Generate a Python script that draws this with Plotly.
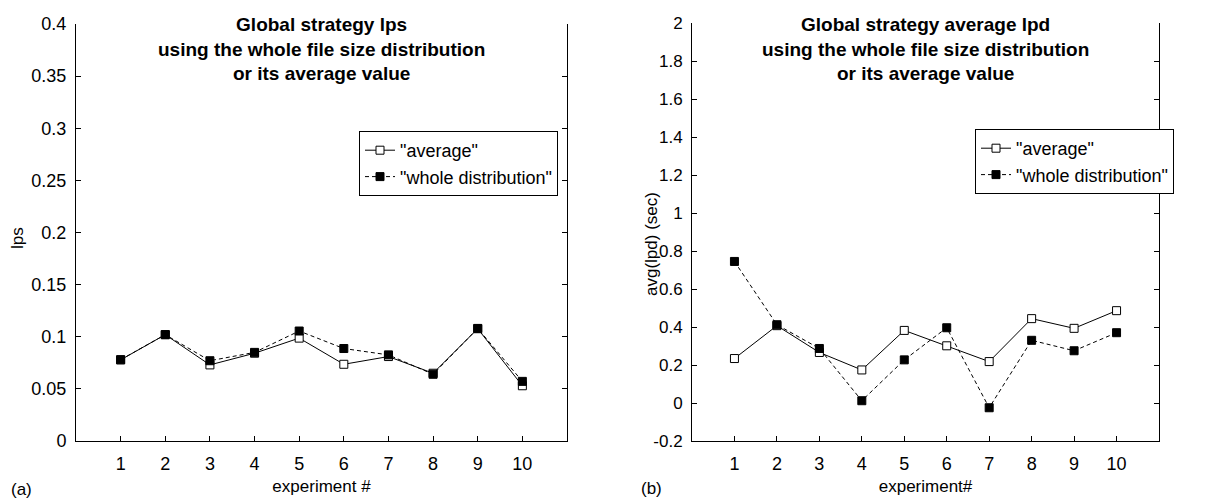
import plotly.graph_objects as go

experiments = [1, 2, 3, 4, 5, 6, 7, 8, 9, 10]

# panel (a): lps
lps_average = [0.0778, 0.102, 0.073, 0.0842, 0.0987, 0.0736, 0.081, 0.065, 0.1077, 0.053]
lps_whole = [0.078, 0.102, 0.077, 0.085, 0.1055, 0.0887, 0.0826, 0.064, 0.108, 0.0572]

# panel (b): avg(lpd)
lpd_average = [0.234, 0.407, 0.266, 0.174, 0.382, 0.301, 0.218, 0.444, 0.393, 0.486]
lpd_whole = [0.745, 0.412, 0.287, 0.012, 0.227, 0.396, -0.025, 0.33, 0.275, 0.37]

left_yticks = [0, 0.05, 0.1, 0.15, 0.2, 0.25, 0.3, 0.35, 0.4]
left_yticklabels = ["0", "0.05", "0.1", "0.15", "0.2", "0.25", "0.3", "0.35", "0.4"]
right_yticks = [-0.2, 0, 0.2, 0.4, 0.6, 0.8, 1, 1.2, 1.4, 1.6, 1.8, 2]
right_yticklabels = ["-0.2", "0", "0.2", "0.4", "0.6", "0.8", "1", "1.2", "1.4", "1.6", "1.8", "2"]
xticklabels = [str(v) for v in experiments]

# the page body has an 8px margin; the figure is sized so it fills the window exactly
OFF = 8
W, H = 1208 - OFF, 502 - OFF
FONT = "Liberation Sans, Arial, Helvetica, sans-serif"


def px(x):
    return (x - OFF) / W


def py(y):
    return 1 - (y - OFF) / H


fig = go.Figure()


def add_pair(xa, ya, avg, whole, legend):
    fig.add_trace(go.Scatter(
        x=experiments, y=avg, xaxis=xa, yaxis=ya, mode="lines+markers",
        name='"average"', legend=legend,
        line=dict(color="black", width=1, dash="solid"),
        marker=dict(symbol="square", size=8, color="white", line=dict(color="black", width=1)),
    ))
    fig.add_trace(go.Scatter(
        x=experiments, y=whole, xaxis=xa, yaxis=ya, mode="lines+markers",
        name='"whole distribution"', legend=legend,
        line=dict(color="black", width=1, dash="4px,3px"),
        marker=dict(symbol="square", size=8, color="black", line=dict(color="black", width=1)),
    ))


add_pair("x", "y", lps_average, lps_whole, "legend")
add_pair("x2", "y2", lpd_average, lpd_whole, "legend2")

axis_common = dict(
    showline=True, linecolor="black", linewidth=1, showgrid=False, zeroline=False,
    ticks="inside", ticklen=5, tickcolor="black", tickwidth=1, automargin=False,
)

fig.update_layout(
    width=W, height=H, autosize=False,
    margin=dict(l=0, r=0, t=0, b=0, pad=0, autoexpand=False),
    paper_bgcolor="white", plot_bgcolor="white",
    font=dict(family=FONT, color="black"),
    xaxis=dict(domain=[px(76), px(567)], range=[0, 11], tickvals=experiments, ticktext=xticklabels,
               mirror=False, anchor="y", ticklabelstandoff=6,
               tickfont=dict(family=FONT, size=18, color="black"),
               title=dict(text="experiment #", font=dict(size=17, family=FONT), standoff=7),
               **axis_common),
    yaxis=dict(domain=[py(441), py(24)], range=[0, 0.4], tickvals=left_yticks, ticktext=left_yticklabels,
               mirror="ticks", anchor="x", ticklabelstandoff=5,
               tickfont=dict(family=FONT, size=18, color="black"),
               **axis_common),
    xaxis2=dict(domain=[px(692), px(1159)], range=[0, 11], tickvals=experiments, ticktext=xticklabels,
                mirror=False, anchor="y2", ticklabelstandoff=6,
                tickfont=dict(family=FONT, size=18, color="black"),
                title=dict(text="experiment#", font=dict(size=17, family=FONT), standoff=7),
                **axis_common),
    yaxis2=dict(domain=[py(441), py(23)], range=[-0.2, 2], tickvals=right_yticks, ticktext=right_yticklabels,
                mirror="ticks", anchor="x2", ticklabelstandoff=5,
                tickfont=dict(family=FONT, size=17, color="black"),
                **axis_common),
    legend=dict(x=px(359), y=py(131), xanchor="left", yanchor="top",
                bordercolor="black", borderwidth=1, bgcolor="white",
                font=dict(family=FONT, size=18, color="black"), tracegroupgap=0),
    legend2=dict(x=px(975), y=py(129), xanchor="left", yanchor="top",
                 bordercolor="black", borderwidth=1, bgcolor="white",
                 font=dict(family=FONT, size=18, color="black"), tracegroupgap=0),
    showlegend=True,
)

titles = [
    ("Global strategy lps<br>using the whole file size distribution<br>or its average value", (76 + 567) / 2),
    ("Global strategy average lpd<br>using the whole file size distribution<br>or its average value", (692 + 1159) / 2),
]
for text, xc in titles:
    fig.add_annotation(text="<b>" + text + "</b>", xref="paper", yref="paper", x=px(xc), y=py(49),
                       xanchor="center", yanchor="middle", showarrow=False,
                       font=dict(family=FONT, size=19, color="black"))

# y-axis titles
fig.add_annotation(text="lps", xref="paper", yref="paper", x=px(17), y=py(238),
                   xanchor="center", yanchor="middle", textangle=-90, showarrow=False,
                   font=dict(family=FONT, size=17, color="black"))
fig.add_annotation(text="avg(lpd) (sec)", xref="paper", yref="paper", x=px(651), y=py(244),
                   xanchor="center", yanchor="middle", textangle=-90, showarrow=False,
                   font=dict(family=FONT, size=17, color="black"))

fig.add_annotation(text="(a)", xref="paper", yref="paper", x=px(9), y=py(489),
                   xanchor="left", yanchor="middle", showarrow=False,
                   font=dict(family=FONT, size=17, color="black"))
fig.add_annotation(text="(b)", xref="paper", yref="paper", x=px(639), y=py(488),
                   xanchor="left", yanchor="middle", showarrow=False,
                   font=dict(family=FONT, size=17, color="black"))

fig.write_html("out.html")
